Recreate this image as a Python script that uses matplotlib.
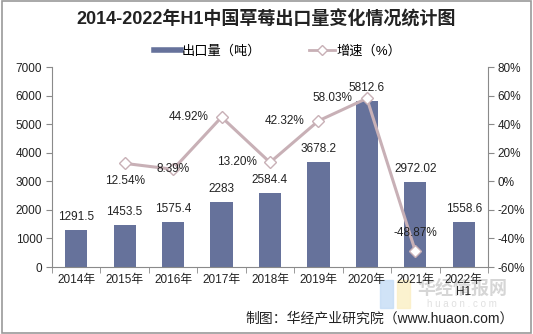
import numpy as np
import matplotlib
matplotlib.use("Agg")
import matplotlib.pyplot as plt
from matplotlib.lines import Line2D
from matplotlib.patches import Rectangle

years = ["2014年", "2015年", "2016年", "2017年", "2018年", "2019年", "2020年", "2021年", "2022年\nH1"]
export_t = [1291.5, 1453.5, 1575.4, 2283, 2584.4, 3678.2, 5812.6, 2972.02, 1558.6]
export_lbl = ["1291.5", "1453.5", "1575.4", "2283", "2584.4", "3678.2", "5812.6", "2972.02", "1558.6"]
growth = [np.nan, 12.54, 8.39, 44.92, 13.20, 42.32, 58.03, -48.87, np.nan]
growth_lbl = ["", "12.54%", "8.39%", "44.92%", "13.20%", "42.32%", "58.03%", "-48.87%", ""]
# label offsets in pixels (dx, dy) relative to each point
growth_off = [(0, 0), (0, -18), (0, 0), (-33, 0), (-33, 0), (-34, 0), (-34, 0), (0, 18), (0, 0)]

plt.rcParams["font.family"] = ["Liberation Sans", "Noto Sans CJK SC", "DejaVu Sans"]

BAR = "#66729b"
LINE = "#c8b0b6"
GRAY = "#8a8a8a"

fig = plt.figure(figsize=(5.33, 3.34), dpi=100)
ax = fig.add_axes([52 / 533, 1 - 267 / 334, 436 / 533, 200 / 334])
x = np.arange(len(years))

ax.bar(x, export_t, width=0.46, color=BAR, zorder=2)
for xi, v, s in zip(x, export_t, export_lbl):
    ax.annotate(s, (xi, v), xytext=(0, 13), textcoords="offset pixels",
                ha="center", va="center", fontsize=8.5, color="#222222")

ax.set_xlim(-0.5, len(years) - 0.5)
ax.set_ylim(0, 7000)
ax.set_yticks(range(0, 7001, 1000))
ax.set_xticks(x)
ax.set_xticklabels(years, fontsize=8.5, color="#222222", linespacing=1.0)
ax.set_xticks(np.arange(-0.5, len(years), 1), minor=True)
ax.tick_params(axis="x", which="major", length=0, pad=5)
ax.tick_params(axis="x", which="minor", length=4, color=GRAY, direction="out")
ax.tick_params(axis="y", length=4, color=GRAY, labelsize=8.5, labelcolor="#222222", pad=3)
for side in ["top", "right"]:
    ax.spines[side].set_visible(False)
for side in ["left", "bottom"]:
    ax.spines[side].set_color(GRAY)

ax2 = ax.twinx()
ax2.plot(x, growth, color=LINE, lw=2.2, marker="D", markersize=6.5,
         markerfacecolor="white", markeredgecolor=LINE, markeredgewidth=1, zorder=3)
for xi, v, s, (dx, dy) in zip(x, growth, growth_lbl, growth_off):
    if s:
        ax2.annotate(s, (xi, v), xytext=(dx, dy), textcoords="offset pixels",
                     ha="center", va="center", fontsize=8.5, color="#222222")
ax2.set_ylim(-60, 80)
ax2.set_yticks(range(-60, 81, 20))
ax2.set_yticklabels([f"{t}%" for t in range(-60, 81, 20)])
ax2.tick_params(axis="y", length=4, color=GRAY, labelsize=8.5, labelcolor="#222222", pad=3)
for side in ["top", "left", "bottom"]:
    ax2.spines[side].set_visible(False)
ax2.spines["right"].set_color(GRAY)

fig.text(0.5, 1 - 19 / 334, "2014-2022年H1中国草莓出口量变化情况统计图",
         ha="center", va="center", fontsize=13, fontweight="bold", color="#222222")

handles = [Line2D([], [], color=BAR, lw=4),
           Line2D([], [], color=LINE, lw=2, marker="D", markersize=5,
                  markerfacecolor="white", markeredgecolor=LINE)]
fig.legend(handles, ["出口量（吨）", "增速（%）"], loc="center", ncol=2,
           bbox_to_anchor=(278 / 533, 1 - 51 / 334), frameon=False, fontsize=9.5,
           handlelength=2.0, handletextpad=0.1, columnspacing=3.6)

# watermark (behind everything)
fig.patches.append(Rectangle((380 / 533, 1 - 308 / 334), 13 / 533, 28 / 334,
                             transform=fig.transFigure, color="#c5dcf5", alpha=0.8, zorder=-2))
fig.patches.append(Rectangle((397 / 533, 1 - 308 / 334), 13 / 533, 28 / 334,
                             transform=fig.transFigure, color="#fbefc4", alpha=0.8, zorder=-2))
fig.text(462 / 533, 1 - 290 / 334, "华经情报网", ha="center", va="center",
         fontsize=13, color="#d6d6d6", fontweight="bold", zorder=-1)
fig.text(462 / 533, 1 - 304 / 334, "h u a o n . c o m", ha="center", va="center",
         fontsize=7, color="#e0e0e0", zorder=-1)

fig.text(514 / 533, 1 - 318 / 334, "制图：华经产业研究院（www.huaon.com）",
         ha="right", va="center", fontsize=10, color="#222222")

fig.patches.append(Rectangle((0.003, 0.004), 0.994, 0.992, transform=fig.transFigure,
                             fill=False, edgecolor="#9a9a9a", lw=1.2))

fig.savefig("out.png", dpi=100)
